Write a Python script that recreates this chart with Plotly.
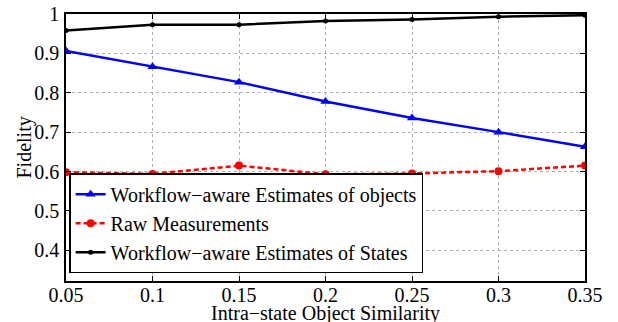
import plotly.graph_objects as go

x_vals = [0.05, 0.1, 0.15, 0.2, 0.25, 0.3, 0.35]
objects_est = [0.906, 0.866, 0.827, 0.778, 0.736, 0.700, 0.663]
raw_meas = [0.598, 0.594, 0.615, 0.593, 0.595, 0.601, 0.615]
states_est = [0.958, 0.973, 0.973, 0.982, 0.986, 0.993, 0.997]
x_ticktext = ["0.05", "0.1", "0.15", "0.2", "0.25", "0.3", "0.35"]
y_tickvals = [0.4, 0.5, 0.6, 0.7, 0.8, 0.9, 1.0]
y_ticktext = ["0.4", "0.5", "0.6", "0.7", "0.8", "0.9", "1"]

names = ["Workflow\u2212aware Estimates of objects", "Raw Measurements",
         "Workflow\u2212aware Estimates of States"]
x_title = "Intra\u2212state Object Similarity"
y_title = "Fidelity"

FONT = "Liberation Serif"

fig = go.Figure()
fig.add_trace(go.Scatter(x=x_vals, y=objects_est, name=names[0], mode="lines+markers",
                         line=dict(color="#0000ff", width=2.5),
                         marker=dict(symbol="triangle-up", size=9, color="#0000ff")))
fig.add_trace(go.Scatter(x=x_vals, y=raw_meas, name=names[1], mode="lines+markers",
                         line=dict(color="#ff0000", width=2.5, dash="5px,3px"),
                         marker=dict(symbol="circle", size=8, color="#ff0000")))
fig.add_trace(go.Scatter(x=x_vals, y=states_est, name=names[2], mode="lines+markers",
                         line=dict(color="#000000", width=2.5),
                         marker=dict(symbol="circle", size=5, color="#000000")))

axis_common = dict(showline=True, linecolor="black", linewidth=1.5, mirror="ticks",
                   ticks="inside", ticklen=5, tickcolor="black",
                   showgrid=True, gridcolor="#b0b0b0", griddash="dot", gridwidth=1,
                   zeroline=False, automargin=False,
                   tickfont=dict(family=FONT, size=20, color="black"))

fig.update_layout(
    width=618, height=322,
    margin=dict(l=66, r=33, t=14, b=41),
    paper_bgcolor="white", plot_bgcolor="white",
    font=dict(family=FONT, color="black"),
    xaxis=dict(range=[0.05, 0.35], tickvals=x_vals, ticktext=x_ticktext,
               ticklabelstandoff=-5, **axis_common),
    yaxis=dict(range=[0.322, 1.0], tickvals=y_tickvals, ticktext=y_ticktext,
               ticklabelstandoff=1, **axis_common),
    legend=dict(x=0.006, y=0.404, xanchor="left", yanchor="top",
                bgcolor="white", bordercolor="black", borderwidth=1.5,
                font=dict(family=FONT, size=20, color="black"),
                tracegroupgap=0, itemwidth=30),
    showlegend=True,
    annotations=[
        dict(text=x_title, xref="paper", yref="paper", x=0.5, y=0,
             xanchor="center", yanchor="top", yshift=-19, showarrow=False,
             font=dict(family=FONT, size=20, color="black")),
        dict(text=y_title, xref="paper", yref="paper", x=0, y=0.5, xshift=-42,
             xanchor="center", yanchor="middle", textangle=-90, showarrow=False,
             font=dict(family=FONT, size=20, color="black")),
    ],
)

fig.write_html("out.html")
